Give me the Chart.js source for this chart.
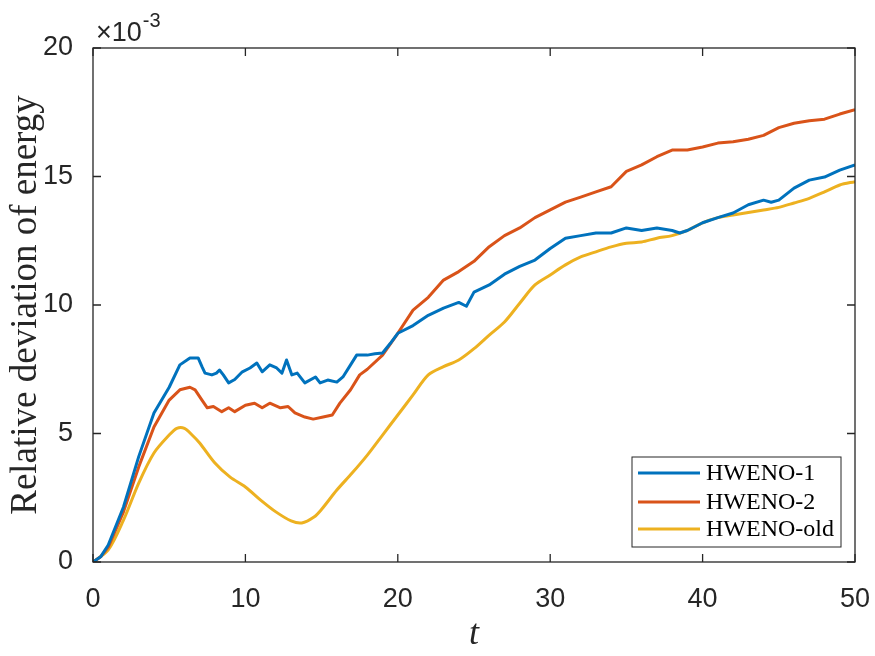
<!DOCTYPE html>
<html lang="en">
<head>
  <meta charset="UTF-8" />
  <title>Relative deviation of energy</title>
  <script src="https://cdn.jsdelivr.net/npm/chart.js"></script>
  <style>
    html, body {
      margin: 0;
      padding: 0;
      background: #ffffff;
    }
    #wrap {
      width: 875px;
      height: 656px;
    }
  </style>
</head>
<body>
  <div id="wrap">
    <canvas id="energyChart" width="875" height="656"></canvas>
  </div>

  <script>
    // values are in units of 1e-3
    const seriesNames = ['HWENO-1', 'HWENO-2', 'HWENO-old'];
    const seriesColors = ['#0072BD', '#D95319', '#EDB120'];

    const tHweno1 = [0, 0.5, 1, 2, 3, 4, 5, 5.7, 6.36, 6.9, 7.15, 7.35, 7.8, 8.1, 8.3, 8.55, 8.9, 9.3, 9.8, 10.3, 10.75, 11.1, 11.6, 12.05, 12.4, 12.7, 13.05, 13.4, 13.9, 14.6, 14.9, 15.4, 16, 16.4, 16.9, 17.3, 18, 18.5, 19, 19.5, 20, 21, 22, 23, 24, 24.5, 25, 26, 27, 28, 29, 30, 31, 32, 33, 34, 35, 36, 37, 38, 38.5, 39, 40, 41, 42, 43, 44, 44.5, 45, 46, 47, 48, 49, 50];
    const vHweno1 = [0, 0.2, 0.66, 2.14, 4.1, 5.8, 6.8, 7.67, 7.94, 7.94, 7.6, 7.35, 7.28, 7.35, 7.47, 7.28, 6.97, 7.1, 7.4, 7.55, 7.74, 7.4, 7.67, 7.55, 7.35, 7.86, 7.28, 7.35, 6.97, 7.2, 6.97, 7.08, 7.0, 7.2, 7.67, 8.05, 8.05, 8.1, 8.13, 8.5, 8.9, 9.2, 9.6, 9.88, 10.1, 9.95, 10.5, 10.78, 11.2, 11.5, 11.75, 12.2, 12.6, 12.7, 12.8, 12.8, 13.0, 12.9, 13.0, 12.9, 12.8, 12.9, 13.2, 13.4, 13.58, 13.9, 14.08, 14.0, 14.08, 14.55, 14.86, 14.98, 15.25, 15.45];

    const tHweno2 = [0, 0.5, 1, 2, 3, 4, 5, 5.7, 6.36, 6.7, 7.15, 7.5, 7.9, 8.45, 8.9, 9.3, 10, 10.6, 11.1, 11.6, 12.3, 12.8, 13.25, 13.9, 14.45, 15.1, 15.7, 16.2, 16.9, 17.5, 18, 19, 20, 21, 22, 23, 24, 25, 26, 27, 28, 29, 30, 31, 32, 33, 34, 35, 36, 37, 38, 39, 40, 41, 42, 43, 44, 45, 46, 47, 48, 49, 50];
    const vHweno2 = [0, 0.2, 0.58, 1.95, 3.7, 5.25, 6.3, 6.7, 6.8, 6.7, 6.3, 6.0, 6.05, 5.85, 6.0, 5.85, 6.1, 6.18, 6.0, 6.18, 6.0, 6.05, 5.8, 5.64, 5.56, 5.64, 5.72, 6.18, 6.7, 7.28, 7.5, 8.05, 8.9, 9.8, 10.3, 10.97, 11.3, 11.7, 12.27, 12.7, 13.0, 13.4, 13.7, 14.0, 14.2, 14.4, 14.6, 15.2, 15.45, 15.77, 16.03, 16.03, 16.15, 16.3, 16.35, 16.45, 16.6, 16.9, 17.07, 17.17, 17.23, 17.43, 17.6];

    const tOld = [0, 1, 2, 3, 4, 5, 5.5, 6, 6.5, 7, 8, 9, 10, 11, 12, 13, 13.7, 14.5, 15, 16, 17, 18, 19, 20, 21, 22, 23, 24, 25, 26, 27, 28, 29, 30, 31, 32, 33, 34, 35, 36, 37, 38, 39, 40, 41, 42, 43, 44, 45, 46, 47, 48, 49, 50];
    const vOld = [0, 0.47, 1.63, 3.07, 4.24, 4.94, 5.2, 5.2, 4.94, 4.63, 3.85, 3.3, 2.92, 2.41, 1.95, 1.6, 1.52, 1.75, 2.05, 2.8, 3.46, 4.16, 4.94, 5.72, 6.5, 7.28, 7.6, 7.86, 8.3, 8.83, 9.34, 10.07, 10.78, 11.17, 11.56, 11.87, 12.07, 12.26, 12.4, 12.45, 12.6, 12.7, 12.9, 13.2, 13.4, 13.5, 13.6, 13.7, 13.8, 13.97, 14.15, 14.4, 14.67, 14.8];

    const xTicks = [0, 10, 20, 30, 40, 50];
    const yTicks = [0, 5, 10, 15, 20];

    const ink = '#262626';

    function toPoints(ts, vs) {
      return ts.map((t, i) => ({ x: t, y: vs[i] }));
    }

    // box, inward ticks on all sides, exponent, axis labels, legend
    const matlabLook = {
      id: 'matlabLook',
      afterDraw(chart) {
        const ctx = chart.ctx;
        const a = chart.chartArea;
        const xs = chart.scales.x;
        const ys = chart.scales.y;
        const tl = 8;
        ctx.save();
        ctx.strokeStyle = ink;
        ctx.lineWidth = 1.3;
        ctx.strokeRect(a.left, a.top, a.right - a.left, a.bottom - a.top);
        ctx.beginPath();
        xTicks.forEach(v => {
          const px = xs.getPixelForValue(v);
          ctx.moveTo(px, a.bottom); ctx.lineTo(px, a.bottom - tl);
          ctx.moveTo(px, a.top); ctx.lineTo(px, a.top + tl);
        });
        yTicks.forEach(v => {
          const py = ys.getPixelForValue(v);
          ctx.moveTo(a.left, py); ctx.lineTo(a.left + tl, py);
          ctx.moveTo(a.right, py); ctx.lineTo(a.right - tl, py);
        });
        ctx.stroke();

        // exponent
        ctx.fillStyle = ink;
        ctx.textBaseline = 'alphabetic';
        ctx.textAlign = 'left';
        ctx.font = '27px "Liberation Sans", Arial, sans-serif';
        ctx.fillText('\u00d710', 96, 41);
        const w = ctx.measureText('\u00d710').width;
        ctx.font = '20px "Liberation Sans", Arial, sans-serif';
        ctx.fillText('-3', 96 + w + 1, 27);

        // axis labels
        ctx.font = 'italic 36px "Liberation Serif", "DejaVu Serif", serif';
        ctx.textAlign = 'center';
        ctx.fillText('t', (a.left + a.right) / 2, 644);
        ctx.save();
        ctx.translate(36, 305);
        ctx.rotate(-Math.PI / 2);
        ctx.font = '37px "Liberation Serif", "DejaVu Serif", serif';
        ctx.fillText('Relative deviation of energy', 0, 0);
        ctx.restore();

        // legend
        const lx = 632, ly = 457, lw = 209, lh = 90;
        ctx.fillStyle = '#ffffff';
        ctx.fillRect(lx, ly, lw, lh);
        ctx.strokeStyle = ink;
        ctx.lineWidth = 1;
        ctx.strokeRect(lx, ly, lw, lh);
        ctx.font = '24px "Liberation Serif", "DejaVu Serif", serif';
        ctx.textAlign = 'left';
        ctx.textBaseline = 'middle';
        const rows = [473, 502, 529];
        chart.data.datasets.forEach((ds, i) => {
          ctx.strokeStyle = ds.borderColor;
          ctx.lineWidth = 3;
          ctx.beginPath();
          ctx.moveTo(638, rows[i]);
          ctx.lineTo(700, rows[i]);
          ctx.stroke();
          ctx.fillStyle = '#000000';
          ctx.fillText(ds.label, 706, rows[i] + 1);
        });
        ctx.restore();
      }
    };

    const ctx = document.getElementById('energyChart').getContext('2d');
    new Chart(ctx, {
      type: 'line',
      data: {
        datasets: [
          { label: seriesNames[0], data: toPoints(tHweno1, vHweno1), borderColor: seriesColors[0], tension: 0 },
          { label: seriesNames[1], data: toPoints(tHweno2, vHweno2), borderColor: seriesColors[1], tension: 0 },
          { label: seriesNames[2], data: toPoints(tOld, vOld), borderColor: seriesColors[2], tension: 0.3 }
        ]
      },
      options: {
        responsive: false,
        animation: false,
        devicePixelRatio: 1,
        layout: { padding: { top: 48, right: 20, left: 0, bottom: 0 } },
        elements: {
          point: { radius: 0 },
          line: { borderWidth: 3, fill: false, borderJoinStyle: 'round' }
        },
        plugins: {
          legend: { display: false },
          tooltip: { enabled: false }
        },
        scales: {
          x: {
            type: 'linear',
            min: 0,
            max: 50,
            afterFit(scale) {
              scale.height = 94;
              scale.paddingLeft = 0;
              scale.paddingRight = 0;
            },
            afterBuildTicks(scale) { scale.ticks = xTicks.map(v => ({ value: v })); },
            grid: { display: false },
            border: { display: false },
            ticks: {
              color: ink,
              padding: 13,
              font: { family: '"Liberation Sans", Arial, sans-serif', size: 27 }
            }
          },
          y: {
            type: 'linear',
            min: 0,
            max: 20,
            afterFit(scale) {
              scale.width = 93;
              scale.paddingTop = 0;
              scale.paddingBottom = 0;
            },
            afterBuildTicks(scale) { scale.ticks = yTicks.map(v => ({ value: v })); },
            grid: { display: false },
            border: { display: false },
            ticks: {
              color: ink,
              padding: 12,
              font: { family: '"Liberation Sans", Arial, sans-serif', size: 27 }
            }
          }
        }
      },
      plugins: [matlabLook]
    });
  </script>
</body>
</html>
